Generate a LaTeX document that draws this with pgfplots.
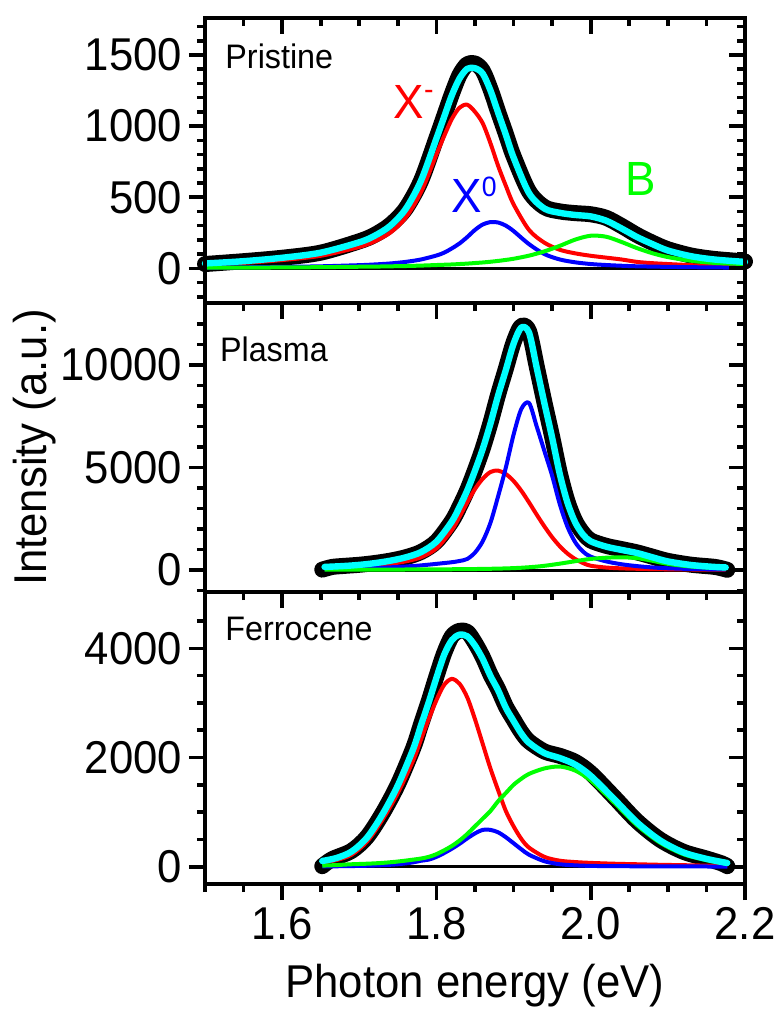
\documentclass[border=0pt]{standalone}
\usepackage{fontspec}
\setmainfont{Liberation Sans}[FakeStretch=0.95]
\usepackage{pgfplots}
\pgfplotsset{compat=1.18}
\definecolor{cR}{RGB}{255,0,0}
\definecolor{cB}{RGB}{0,0,255}
\definecolor{cG}{RGB}{0,255,0}
\definecolor{cC}{RGB}{0,255,255}
\pgfplotsset{
  base/.style={width=270pt, scale only axis, xmin=1.5, xmax=2.2, clip=false,
    axis line style={line width=2pt},
    every tick/.style={black, line width=1.8pt},
    major tick length=8pt, minor tick length=4pt,
    xtick={1.6,1.8,2.0,2.2}, minor xtick={1.5,1.55,...,2.2},
    tick label style={font=\fontsize{23}{27}\selectfont},
    label style={font=\fontsize{23}{27}\selectfont},
    /pgf/number format/assume math mode=true,
    scaled ticks=false},
  outer/.style={base, tick align=outside, xtick pos=left, ytick pos=left},
  inner/.style={base, tick align=inside, xtick pos=right, ytick pos=right, xticklabels={}, yticklabels={}},
  p1/.style={ymin=-244, ymax=1760, height=142.5pt, ytick={0,500,1000,1500}, minor ytick={-200,-100,...,1700}},
  p2/.style={ymin=-1073, ymax=13024, height=144.5pt, ytick={0,5000,10000}, minor ytick={-1000,0,...,12000}},
  p3/.style={ymin=-317, ymax=5031, height=146pt, ytick={0,2000,4000}, minor ytick={0,500,...,4500}},
  dat/.style={black, line width=8pt, smooth, line join=round, line cap=round},
  fit/.style={cC, line width=3.2pt, smooth, line join=round, line cap=round},
  comp/.style={line width=2pt, smooth, line join=round},
  zer/.style={black, line width=1.5pt},
}
\begin{document}
\begin{tikzpicture}
\path[use as bounding box] (-102.5pt,9pt) rectangle (286pt,-496.5pt);
% ---------------- Panel 1: Pristine
\begin{axis}[outer, p1, at={(0pt,0pt)}, anchor=north west, xticklabels={}, yticklabels={0,500,1000,1500}]
\addplot[zer] coordinates {(1.5,0) (2.2,0)};
\addplot[dat] coordinates {(1.50,30) (1.55,50) (1.60,74) (1.65,110) (1.70,190) (1.72,235) (1.74,305) (1.76,418) (1.78,615) (1.80,915) (1.81,1070) (1.82,1225) (1.83,1360) (1.84,1435) (1.85,1440) (1.86,1390) (1.87,1260) (1.88,1100) (1.89,945) (1.90,788) (1.92,540) (1.94,430) (1.96,400) (1.98,388) (2.00,380) (2.02,355) (2.04,298) (2.06,234) (2.08,180) (2.10,134) (2.13,90) (2.16,66) (2.20,48)};
\addplot[comp, cR] coordinates {(1.50,25) (1.55,38) (1.60,58) (1.65,88) (1.70,150) (1.72,190) (1.74,250) (1.76,355) (1.78,535) (1.80,800) (1.81,930) (1.82,1050) (1.83,1130) (1.84,1150) (1.85,1100) (1.86,1020) (1.87,880) (1.88,720) (1.89,580) (1.90,450) (1.92,270) (1.94,180) (1.96,130) (1.98,105) (2.00,88) (2.02,75) (2.04,62) (2.06,45) (2.08,36) (2.10,30) (2.13,22) (2.16,16) (2.20,10)};
\addplot[comp, cB] coordinates {(1.50,5) (1.55,7) (1.60,10) (1.65,14) (1.70,22) (1.72,27) (1.74,34) (1.76,45) (1.78,62) (1.80,90) (1.81,110) (1.82,140) (1.83,175) (1.84,220) (1.85,270) (1.86,308) (1.87,325) (1.88,322) (1.89,300) (1.90,262) (1.92,170) (1.94,100) (1.96,62) (1.98,42) (2.00,30) (2.02,23) (2.04,18) (2.06,14) (2.08,12) (2.10,10) (2.13,8) (2.16,6) (2.20,5)};
\addplot[comp, cG] coordinates {(1.50,4) (1.55,5) (1.60,6) (1.65,8) (1.70,11) (1.72,12) (1.74,14) (1.76,16) (1.78,19) (1.80,23) (1.81,25) (1.82,27) (1.83,30) (1.84,33) (1.85,37) (1.86,41) (1.87,46) (1.88,52) (1.89,59) (1.90,67) (1.92,89) (1.94,119) (1.96,158) (1.98,202) (2.00,229) (2.02,222) (2.04,185) (2.06,142) (2.08,106) (2.10,79) (2.13,53) (2.16,38) (2.20,30)};
\addplot[fit] coordinates {(1.50,34) (1.55,50) (1.60,74) (1.65,110) (1.70,183) (1.72,229) (1.74,298) (1.76,416) (1.78,616) (1.80,913) (1.81,1065) (1.82,1217) (1.83,1335) (1.84,1403) (1.85,1407) (1.86,1369) (1.87,1251) (1.88,1094) (1.89,939) (1.90,779) (1.92,529) (1.94,420) (1.96,390) (1.98,375) (2.00,365) (2.02,335) (2.04,280) (2.06,220) (2.08,170) (2.10,125) (2.13,85) (2.16,62) (2.20,45)};
\node[anchor=west, inner sep=0pt, font=\fontsize{17}{20}\selectfont] at (axis cs:1.526,1489) {Pristine};
\node[anchor=base west, inner sep=0pt, text=cR, font=\fontsize{24}{28}\selectfont] at (axis cs:1.744,1056) {X\raisebox{9.5pt}{\fontsize{15}{15}\selectfont -}};
\node[anchor=base west, inner sep=0pt, text=cB, font=\fontsize{24}{28}\selectfont] at (axis cs:1.819,394) {X\raisebox{8pt}{\fontsize{14}{14}\selectfont 0}};
\node[anchor=base west, inner sep=0pt, text=cG, font=\fontsize{24}{28}\selectfont] at (axis cs:2.044,514) {B};
\end{axis}
\begin{axis}[inner, p1, at={(0pt,0pt)}, anchor=north west]
\end{axis}
% ---------------- Panel 2: Plasma
\begin{axis}[outer, p2, at={(0pt,-142.5pt)}, anchor=north west, xticklabels={}, yticklabels={0,5000,10000},
  ylabel={Intensity (a.u.)}, ylabel style={at={(axis description cs:-0.315,0.5)}, anchor=center}]
\addplot[zer] coordinates {(1.652,0) (2.177,0)};
\addplot[dat] coordinates {(1.652,20) (1.665,150) (1.68,200) (1.70,255) (1.72,340) (1.74,455) (1.76,620) (1.78,880) (1.80,1390) (1.82,2380) (1.83,3090) (1.84,3900) (1.85,4870) (1.86,5930) (1.87,7170) (1.88,8560) (1.89,9820) (1.90,11100) (1.91,11900) (1.92,11650) (1.93,9930) (1.94,8180) (1.95,6500) (1.96,4720) (1.97,3330) (1.98,2380) (1.99,1800) (2.00,1440) (2.02,1180) (2.04,1020) (2.06,860) (2.08,650) (2.10,445) (2.13,260) (2.16,155) (2.172,60) (2.177,10)};
\addplot[comp, cR] coordinates {(1.655,90) (1.68,120) (1.70,155) (1.72,215) (1.74,300) (1.76,420) (1.78,620) (1.80,1050) (1.82,1950) (1.83,2600) (1.84,3300) (1.85,3950) (1.86,4450) (1.87,4780) (1.88,4850) (1.89,4680) (1.90,4345) (1.91,3867) (1.92,3300) (1.93,2700) (1.94,2125) (1.95,1600) (1.96,1155) (1.97,800) (1.98,533) (1.99,339) (2.00,208) (2.02,120) (2.04,80) (2.06,60) (2.08,45) (2.10,35) (2.13,25) (2.16,20) (2.175,18)};
\addplot[comp, cB] coordinates {(1.655,45) (1.68,60) (1.70,78) (1.72,100) (1.74,130) (1.76,170) (1.78,225) (1.80,300) (1.82,380) (1.83,440) (1.84,540) (1.85,850) (1.86,1400) (1.87,2300) (1.88,3600) (1.89,5000) (1.90,6600) (1.91,7850) (1.92,8150) (1.93,7000) (1.94,5800) (1.95,4600) (1.96,3200) (1.97,2100) (1.98,1350) (1.99,900) (2.00,650) (2.02,420) (2.04,280) (2.06,190) (2.08,125) (2.10,85) (2.13,50) (2.16,32) (2.175,28)};
\addplot[comp, cG] coordinates {(1.655,15) (1.68,15) (1.70,18) (1.72,20) (1.74,22) (1.76,25) (1.78,28) (1.80,32) (1.82,37) (1.83,40) (1.84,44) (1.85,48) (1.86,53) (1.87,60) (1.88,68) (1.89,78) (1.90,92) (1.91,110) (1.92,135) (1.93,165) (1.94,205) (1.95,255) (1.96,310) (1.97,370) (1.98,430) (1.99,490) (2.00,540) (2.02,600) (2.04,620) (2.06,580) (2.08,450) (2.10,300) (2.13,170) (2.16,100) (2.175,80)};
\addplot[fit] coordinates {(1.655,150) (1.68,195) (1.70,251) (1.72,335) (1.74,452) (1.76,615) (1.78,873) (1.80,1382) (1.82,2367) (1.83,3080) (1.84,3884) (1.85,4848) (1.86,5903) (1.87,7140) (1.88,8518) (1.89,9758) (1.90,11037) (1.91,11827) (1.92,11585) (1.93,9865) (1.94,8130) (1.95,6455) (1.96,4665) (1.97,3270) (1.98,2313) (1.99,1729) (2.00,1398) (2.02,1140) (2.04,980) (2.06,830) (2.08,620) (2.10,420) (2.13,245) (2.16,152) (2.175,126)};
\node[anchor=west, inner sep=0pt, font=\fontsize{17}{20}\selectfont] at (axis cs:1.519,10780) {Plasma};
\end{axis}
\begin{axis}[inner, p2, at={(0pt,-142.5pt)}, anchor=north west]
\end{axis}
% ---------------- Panel 3: Ferrocene
\begin{axis}[outer, p3, at={(0pt,-287pt)}, anchor=north west, xticklabels={1.6,1.8,2.0,2.2}, yticklabels={0,2000,4000},
  xlabel={Photon energy (eV)}, xlabel style={at={(axis description cs:0.5,-0.349)}, anchor=center}]
\addplot[zer] coordinates {(1.652,0) (2.177,0)};
\addplot[dat] coordinates {(1.652,10) (1.665,140) (1.69,290) (1.71,545) (1.73,975) (1.75,1505) (1.77,2175) (1.78,2605) (1.79,3030) (1.80,3485) (1.81,3910) (1.82,4220) (1.83,4320) (1.84,4300) (1.85,4100) (1.86,3840) (1.87,3520) (1.88,3250) (1.89,2935) (1.90,2695) (1.91,2465) (1.92,2295) (1.94,2110) (1.96,2030) (1.98,1920) (2.00,1715) (2.03,1280) (2.06,835) (2.09,495) (2.12,275) (2.15,150) (2.17,60) (2.177,10)};
\addplot[comp, cR] coordinates {(1.652,80) (1.67,120) (1.69,220) (1.71,460) (1.73,860) (1.75,1350) (1.77,1950) (1.78,2330) (1.79,2700) (1.80,3050) (1.81,3330) (1.82,3440) (1.83,3350) (1.84,3100) (1.85,2700) (1.86,2250) (1.87,1800) (1.88,1400) (1.89,1020) (1.90,740) (1.91,510) (1.92,350) (1.94,180) (1.96,110) (1.98,85) (2.00,70) (2.03,55) (2.06,45) (2.09,35) (2.12,28) (2.15,20) (2.177,15)};
\addplot[comp, cB] coordinates {(1.652,5) (1.67,8) (1.69,12) (1.71,18) (1.73,28) (1.75,45) (1.77,80) (1.78,110) (1.79,130) (1.80,180) (1.81,250) (1.82,330) (1.83,420) (1.84,520) (1.85,610) (1.86,675) (1.87,675) (1.88,630) (1.89,540) (1.90,430) (1.91,320) (1.92,220) (1.94,100) (1.96,45) (1.98,25) (2.00,15) (2.03,10) (2.06,8) (2.09,6) (2.12,5) (2.15,4) (2.177,3)};
\addplot[comp, cG] coordinates {(1.652,20) (1.67,30) (1.69,45) (1.71,55) (1.73,70) (1.75,95) (1.77,130) (1.78,150) (1.79,180) (1.80,230) (1.81,300) (1.82,380) (1.83,480) (1.84,600) (1.85,740) (1.86,880) (1.87,1020) (1.88,1200) (1.89,1350) (1.90,1500) (1.91,1610) (1.92,1700) (1.94,1800) (1.96,1835) (1.98,1760) (2.00,1580) (2.03,1180) (2.06,760) (2.09,440) (2.12,230) (2.15,120) (2.177,50)};
\addplot[fit] coordinates {(1.652,105) (1.67,158) (1.69,277) (1.71,533) (1.73,958) (1.75,1490) (1.77,2160) (1.78,2590) (1.79,3010) (1.80,3460) (1.81,3880) (1.82,4150) (1.83,4250) (1.84,4220) (1.85,4050) (1.86,3805) (1.87,3495) (1.88,3230) (1.89,2910) (1.90,2670) (1.91,2440) (1.92,2270) (1.94,2080) (1.96,1990) (1.98,1870) (2.00,1665) (2.03,1245) (2.06,813) (2.09,481) (2.12,263) (2.15,144) (2.177,68)};
\node[anchor=west, inner sep=0pt, font=\fontsize{17}{20}\selectfont] at (axis cs:1.526,4352) {Ferrocene};
\end{axis}
\begin{axis}[inner, p3, at={(0pt,-287pt)}, anchor=north west]
\end{axis}
\end{tikzpicture}
\end{document}
